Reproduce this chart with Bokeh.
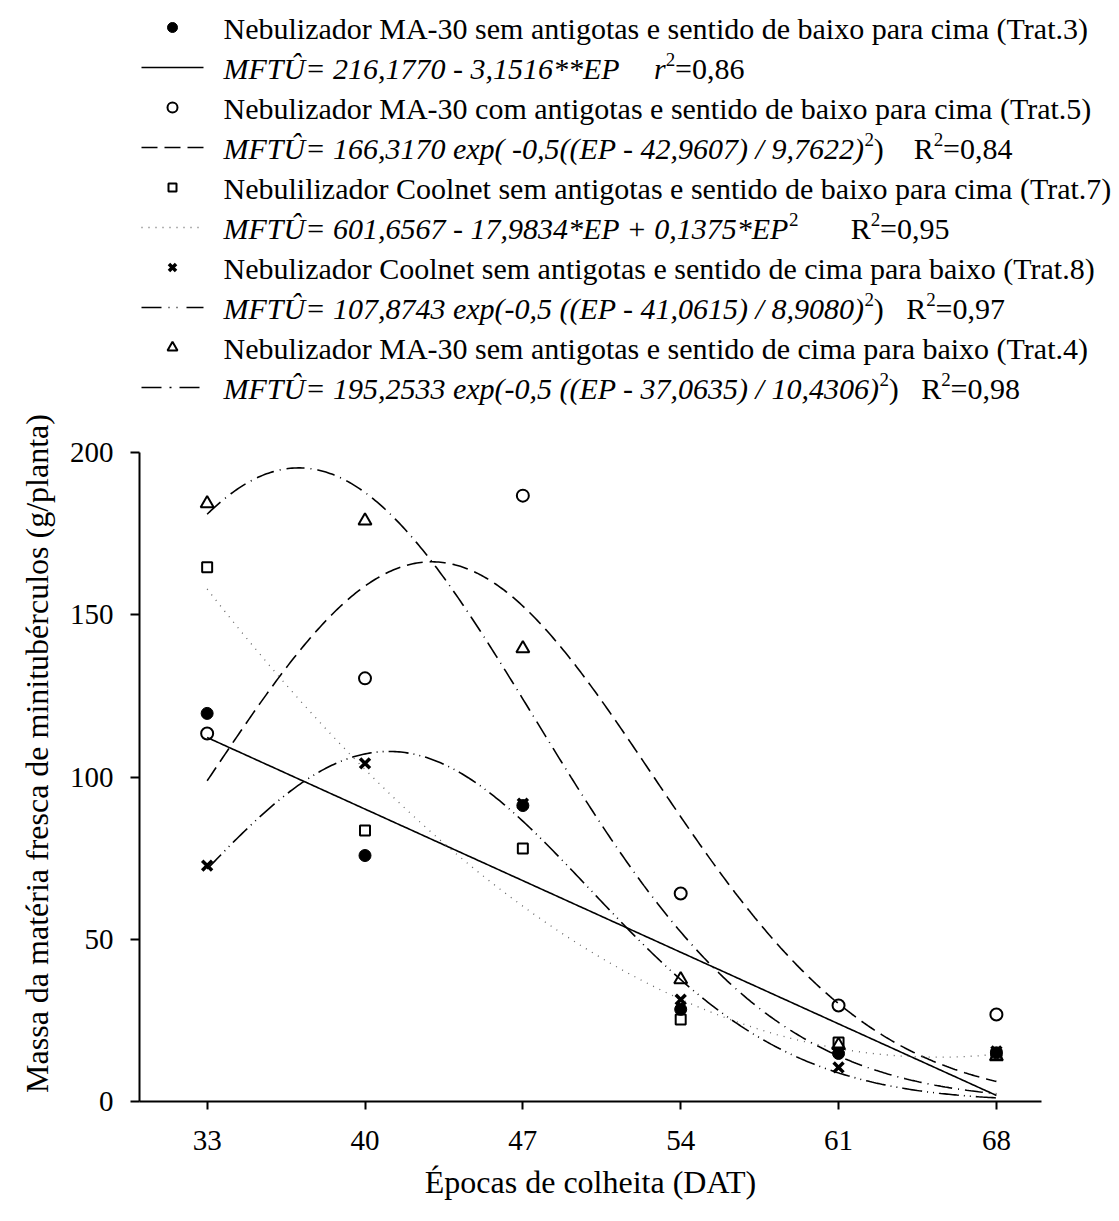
import numpy as np
from bokeh.plotting import figure
from bokeh.layouts import column
from bokeh.models import Range1d, FixedTicker, ColumnDataSource
from bokeh.core.properties import value
from bokeh.embed import file_html
from bokeh.resources import INLINE

# Harvest dates (days after transplanting, DAT)
epocas = [33, 40, 47, 54, 61, 68]

# Fresh mass of minitubers (g/plant) for each treatment
trat3 = [119.6, 75.8, 91.2, 28.4, 14.8, 15.0]
trat5 = [113.4, 130.4, 186.7, 64.1, 29.6, 26.8]
trat7 = [164.6, 83.5, 78.0, 25.3, 18.2, 14.5]
trat8 = [72.7, 104.2, 91.8, 31.4, 10.5, 15.4]
trat4 = [184.3, 179.0, 139.6, 37.6, 17.3, 13.9]

# Fitted models (coefficients as printed in the key)
lin3 = [216.1770, -3.1516]            # a + b*EP
gauss5 = [166.3170, 42.9607, 9.7622]  # a*exp(-0.5((EP-x0)/b)^2)
quad7 = [601.6567, -17.9834, 0.1375]  # a + b*EP + c*EP^2
gauss8 = [107.8743, 41.0615, 8.9080]
gauss4 = [195.2533, 37.0635, 10.4306]

x_ticks = [33, 40, 47, 54, 61, 68]
y_ticks = [0, 50, 100, 150, 200]

FONT = "Liberation Serif"


def gauss(c, x):
    return c[0] * np.exp(-0.5 * ((x - c[1]) / c[2]) ** 2)


# ---------------------------------------------------------------- key ----
# Advance widths (1/1000 em) of the serif face, used to chain text runs.
ROMAN = {" ": 250, "(": 333, ")": 333, "*": 500, "+": 564, ",": 250,
         "-": 333, ".": 250, "/": 278, "=": 564}
ROMAN.update({d: 500 for d in "0123456789"})
ROMAN.update(dict(zip("ABCDEFGHIJKLMNOPQRSTUVWXYZ",
                      [722, 667, 667, 722, 611, 556, 722, 722, 333, 389, 722,
                       611, 889, 722, 722, 556, 722, 667, 556, 611, 722, 722,
                       944, 722, 722, 611])))
ROMAN.update(dict(zip("abcdefghijklmnopqrstuvwxyz",
                      [444, 500, 444, 500, 444, 333, 500, 500, 278, 278, 500,
                       278, 778, 500, 500, 500, 500, 333, 389, 278, 500, 500,
                       722, 500, 500, 444])))
ITALIC = {" ": 250, "(": 333, ")": 333, "*": 500, "+": 675, ",": 250,
          "-": 333, ".": 250, "/": 278, "=": 675, "E": 611, "F": 611,
          "M": 833, "P": 611, "T": 556, "Û": 722, "R": 611, "e": 444,
          "x": 444, "p": 500, "r": 389}
ITALIC.update({d: 500 for d in "0123456789"})

FS = 30          # key font size (px)
SUP = 0.62       # superscript scale
DROP = 0.31      # the text glyph sits this much (in em) below the requested baseline

key_rows = [
    [("Nebulizador MA-30 sem antigotas e sentido de baixo para cima (Trat.3)", "r")],
    [("MFTÛ= 216,1770 - 3,1516**EP", "i"), ("", 1150), ("r", "i"), ("2", "s"), ("=0,86", "r")],
    [("Nebulizador MA-30 com antigotas e sentido de baixo para cima (Trat.5)", "r")],
    [("MFTÛ= 166,3170 exp( -0,5((EP - 42,9607) / 9,7622)", "i"), ("2", "s"), (")", "r"),
     ("", 1000), ("R", "r"), ("2", "s"), ("=0,84", "r")],
    [("Nebulilizador Coolnet sem antigotas e sentido de baixo para cima (Trat.7)", "r")],
    [("MFTÛ= 601,6567 - 17,9834*EP + 0,1375*EP", "i"), ("2", "s"),
     ("", 1750), ("R", "r"), ("2", "s"), ("=0,95", "r")],
    [("Nebulizador Coolnet sem antigotas e sentido de cima para baixo (Trat.8)", "r")],
    [("MFTÛ= 107,8743 exp(-0,5 ((EP - 41,0615) / 8,9080)", "i"), ("2", "s"), (")", "r"),
     ("", 750), ("R", "r"), ("2", "s"), ("=0,97", "r")],
    [("Nebulizador MA-30 sem antigotas e sentido de cima para baixo (Trat.4)", "r")],
    [("MFTÛ= 195,2533 exp(-0,5 ((EP - 37,0635) / 10,4306)", "i"), ("2", "s"), (")", "r"),
     ("", 750), ("R", "r"), ("2", "s"), ("=0,98", "r")],
]

runs = {"r": dict(x=[], y=[], t=[]), "i": dict(x=[], y=[], t=[]), "s": dict(x=[], y=[], t=[])}
TEXT_X = 223
for k, row in enumerate(key_rows):
    base = 37 + 40 * k
    x = TEXT_X
    for txt, kind in row:
        if not isinstance(kind, str):
            x += kind / 1000 * FS
            continue
        if kind == "s":
            runs["s"]["x"].append(x)
            runs["s"]["y"].append(base - 0.40 * FS - DROP * FS * SUP)
            runs["s"]["t"].append(txt)
            x += sum(ROMAN[c] for c in txt) / 1000 * FS * SUP
        else:
            table = ROMAN if kind == "r" else ITALIC
            runs[kind]["x"].append(x)
            runs[kind]["y"].append(base - DROP * FS)
            runs[kind]["t"].append(txt)
            x += sum(table[c] for c in txt) / 1000 * FS

KEY_H = 405
key = figure(width=1119, height=KEY_H, x_range=Range1d(0, 1119), y_range=Range1d(KEY_H, 0),
             output_backend="svg", toolbar_location=None, min_border=0,
             x_axis_location=None, y_axis_location=None)
key.frame_align = False
key.grid.visible = False
key.outline_line_color = None

key.text(x="x", y="y", text="t", source=ColumnDataSource(runs["r"]),
         text_font=value(FONT), text_font_size=f"{FS}px", text_baseline="alphabetic",
         text_color="black")
key.text(x="x", y="y", text="t", source=ColumnDataSource(runs["i"]),
         text_font=value(FONT), text_font_size=f"{FS}px", text_font_style="italic",
         text_baseline="alphabetic", text_color="black")
key.text(x="x", y="y", text="t", source=ColumnDataSource(runs["s"]),
         text_font=value(FONT), text_font_size=f"{round(FS * SUP)}px",
         text_baseline="alphabetic", text_color="black")

SYM_X = 172
LINE_X = [141, 203]


def row_y(k):
    return 37 + 40 * k - 10


key.scatter([SYM_X], [row_y(0)], marker="circle", size=10, fill_color="black", line_color="black")
key.scatter([SYM_X], [row_y(2)], marker="circle", size=10, fill_color=None, line_color="black", line_width=2)
key.scatter([SYM_X], [row_y(4)], marker="square", size=8, fill_color=None, line_color="black", line_width=2)
key.scatter([SYM_X], [row_y(6)], marker="x", size=10, line_color="black", line_width=3.5)
key.scatter([SYM_X], [row_y(8)], marker="triangle", size=10, fill_color=None, line_color="black", line_width=2)

key.line(LINE_X, [row_y(1)] * 2, line_color="black", line_width=1.6)
key.line(LINE_X, [row_y(3)] * 2, line_color="black", line_width=1.6, line_dash="16 7")
key.line(LINE_X, [row_y(5)] * 2, line_color="#666666", line_width=1.3, line_dash="1 6")
key.line(LINE_X, [row_y(7)] * 2, line_color="black", line_width=1.6, line_dash="20 7 1 7 1 9")
key.line(LINE_X, [row_y(9)] * 2, line_color="black", line_width=1.6, line_dash="20 8 2 8")

# --------------------------------------------------------------- chart ---
# The frame reaches a little above 200 so that the vertical title sits
# where it belongs; the axis itself stops at 200.
PX_PER_UNIT = 649 / 200
y_top = 200 + (452 - KEY_H) / PX_PER_UNIT

p = figure(width=1119, height=1221 - KEY_H, x_range=Range1d(30, 70), y_range=Range1d(0, y_top),
           output_backend="svg", toolbar_location=None,
           min_border_left=139, min_border_right=78, min_border_top=0, min_border_bottom=120)
p.frame_align = False
p.grid.visible = False
p.outline_line_color = None
p.background_fill_color = "white"

p.xaxis.ticker = FixedTicker(ticks=x_ticks)
p.yaxis.ticker = FixedTicker(ticks=y_ticks)
p.yaxis.bounds = (0, 200)
for ax in (p.xaxis, p.yaxis):
    ax.axis_line_width = 2
    ax.axis_line_color = "black"
    ax.major_tick_line_width = 2
    ax.major_tick_line_color = "black"
    ax.minor_tick_line_color = None
    ax.major_tick_in = 0
    ax.major_label_text_font = FONT
    ax.major_label_text_font_size = "29px"
    ax.major_label_text_color = "black"
    ax.axis_label_text_font = FONT
    ax.axis_label_text_font_style = "normal"
    ax.axis_label_text_color = "black"
p.xaxis.axis_label_text_font_size = "32px"
p.yaxis.axis_label_text_font_size = "32px"
p.xaxis.major_tick_out = 8
p.yaxis.major_tick_out = 9
p.xaxis.major_label_standoff = 21
p.yaxis.major_label_standoff = 17
p.xaxis.axis_label_standoff = 11
p.yaxis.axis_label_standoff = 12
p.xaxis.axis_label = "Épocas de colheita (DAT)"
p.yaxis.axis_label = "Massa da matéria fresca de minitubérculos (g/planta)"

ep = np.linspace(33, 68, 400)
p.line(ep, lin3[0] + lin3[1] * ep, line_color="black", line_width=1.6)
p.line(ep, gauss(gauss5, ep), line_color="black", line_width=1.6, line_dash="16 7")
p.line(ep, quad7[0] + quad7[1] * ep + quad7[2] * ep ** 2, line_color="#666666",
       line_width=1.3, line_dash="1 6")
p.line(ep, gauss(gauss8, ep), line_color="black", line_width=1.6, line_dash="20 5 1 5 1 5")
p.line(ep, gauss(gauss4, ep), line_color="black", line_width=1.6, line_dash="18 6 1 6")

p.scatter(epocas, trat3, marker="circle", size=12, fill_color="black", line_color="black")
p.scatter(epocas, trat5, marker="circle", size=12, fill_color=None, line_color="black", line_width=2)
p.scatter(epocas, trat7, marker="square", size=10, fill_color=None, line_color="black", line_width=2)
p.scatter(epocas, trat8, marker="x", size=14, line_color="black", line_width=3.5)
p.scatter(epocas, trat4, marker="triangle", size=13, fill_color=None, line_color="black", line_width=2)

layout = column(key, p, spacing=0)
open("out.html", "w").write(file_html(layout, INLINE))
